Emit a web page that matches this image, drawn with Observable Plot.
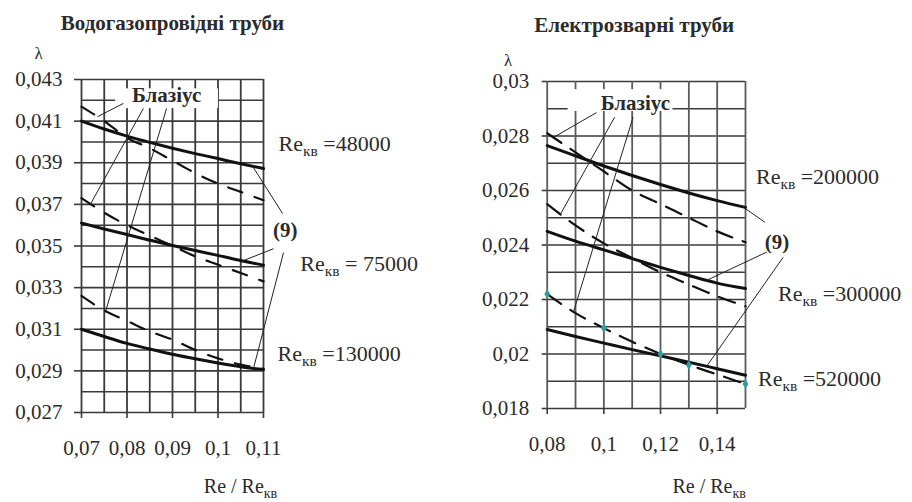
<!DOCTYPE html>
<html><head><meta charset="utf-8">
<script src="https://cdn.jsdelivr.net/npm/d3@7"></script>
<script src="https://cdn.jsdelivr.net/npm/@observablehq/plot@0.6"></script>
<style>
body{margin:0;background:#fff;}
#wrap{position:relative;width:912px;height:502px;overflow:hidden;background:#fff;}
#wrap svg{position:absolute;top:0;}
#wrap svg text, #wrap svg tspan{font-family:'Liberation Serif','Times New Roman',serif !important;}
</style></head><body><div id="wrap"></div>
<script>
// ---------- Left panel: Водогазопровідні труби ----------
const xLeft = [0.07, 0.075, 0.08, 0.085, 0.09, 0.095, 0.1, 0.105, 0.11];
const leftSolid48000   = [0.0410, 0.04062, 0.04028, 0.03998, 0.0397, 0.03944, 0.0392, 0.03895, 0.03872];
const leftBlasius48000 = [0.0417, 0.0410, 0.0402, 0.0397, 0.0391, 0.0385, 0.0380, 0.0376, 0.0372];
const leftSolid75000   = [0.0361, 0.03582, 0.03555, 0.03528, 0.03502, 0.03478, 0.03455, 0.0343, 0.03408];
const leftBlasius75000 = [0.0373, 0.0366, 0.0360, 0.0355, 0.0350, 0.0345, 0.0341, 0.0337, 0.0333];
const leftSolid130000   = [0.0310, 0.03065, 0.03032, 0.03005, 0.0298, 0.02958, 0.02938, 0.0292, 0.02906];
const leftBlasius130000 = [0.0326, 0.0319, 0.0314, 0.0309, 0.0305, 0.0300, 0.0296, 0.0293, 0.0291];
const leftXTicks = [0.07, 0.08, 0.09, 0.1, 0.11];
const leftYTicks = [0.027, 0.029, 0.031, 0.033, 0.035, 0.037, 0.039, 0.041, 0.043];

// ---------- Right panel: Електрозварні труби ----------
const xRight = [0.08, 0.09, 0.1, 0.11, 0.12, 0.13, 0.14, 0.15];
const rightSolid200000   = [0.02765, 0.02727, 0.02690, 0.02655, 0.02622, 0.02591, 0.02563, 0.02538];
const rightBlasius200000 = [0.0281, 0.0274, 0.0267, 0.0260, 0.0255, 0.0250, 0.0245, 0.0241];
const rightSolid300000   = [0.0245, 0.02414, 0.02382, 0.02350, 0.02318, 0.02288, 0.0226, 0.0224];
const rightBlasius300000 = [0.0255, 0.02472, 0.02406, 0.02352, 0.0230, 0.02255, 0.02212, 0.02175];
const rightSolid520000   = [0.0209, 0.02064, 0.0204, 0.02016, 0.01993, 0.0197, 0.01946, 0.01922];
const rightBlasius520000 = [0.0222, 0.0215, 0.02095, 0.02045, 0.0200, 0.0196, 0.01925, 0.0189];
const rightMarkedX = [0.08, 0.1, 0.12, 0.13, 0.15];
const rightXTicks = [0.08, 0.1, 0.12, 0.14];
const rightYTicks = [0.018, 0.02, 0.022, 0.024, 0.026, 0.028, 0.03];

const fmt = d => String(+d.toFixed(4)).replace(".", ",");
const FONT = "'Liberation Serif','Times New Roman',serif";
const INK = "#2b2b2b";

function series(xs, ys, name, kind){ return xs.map((x,i)=>({x, y: ys[i], name, kind})); }
function at(curve, x){ // interpolate along a curve's data
  for (let i=1;i<curve.length;i++){
    if (x <= curve[i].x){ const a=curve[i-1], b=curve[i]; const t=(x-a.x)/(b.x-a.x); return a.y+t*(b.y-a.y); }
  }
  return curve[curve.length-1].y;
}

function panel(cfg){
  const curves = cfg.curves;
  const all = curves.flat();
  const solids = all.filter(d=>d.kind==="solid");
  const dashed = all.filter(d=>d.kind==="dashed");
  const byName = Object.fromEntries(curves.map(c=>[c[0].name+"|"+c[0].kind, c]));
  const leaders = cfg.leaders.map(l=>{
    const c = byName[l.to];
    return {x1:l.x, y1:l.y, x2:l.tx, y2:at(c,l.tx)};
  });
  const svg = Plot.plot({
    width: 456, height: 502,
    marginLeft: cfg.mL, marginRight: cfg.mR, marginTop: cfg.mT, marginBottom: cfg.mB,
    style:{fontFamily: FONT, fontSize:"21px", color: INK, background:"transparent", overflow:"visible"},
    x:{domain: cfg.xDomain},
    y:{domain: cfg.yDomain},
    marks:[
      Plot.gridY(cfg.yGrid, {stroke:"#3a3a3a", strokeOpacity:1, strokeWidth:1.6}),
      Plot.gridX(cfg.xGrid, {stroke: cfg.vGridColor, strokeOpacity:1, strokeWidth:1.8}),
      Plot.axisY(cfg.yTicks, {tickFormat: fmt, tickSize: cfg.yTickSize, tickPadding: cfg.yPad, stroke:"#3a3a3a", strokeWidth:1.6, label:null, fill: INK, fontFamily: FONT, fontSize: 21}),
      Plot.axisX(cfg.xTicks, {tickFormat: fmt, tickSize: 6, tickPadding: 22, stroke:"#3a3a3a", strokeWidth:1.6, label:null, fill: INK, fontFamily: FONT, fontSize: 21}),
      Plot.rect([cfg.box], {x1:"x1", x2:"x2", y1:"y1", y2:"y2", fill:"white"}),
      Plot.line(solids, {x:"x", y:"y", z:"name", stroke:"#111", strokeWidth:3, curve:"monotone-x"}),
      Plot.line(dashed, {x:"x", y:"y", z:"name", stroke:"#111", strokeWidth:2.2, strokeDasharray: cfg.dash, curve:"monotone-x"}),
      cfg.marked ? Plot.dot(cfg.marked, {x:"x", y:"y", symbol:"diamond", r:3, fill:"#2f9d9d"}) : null,
      Plot.link(leaders, {x1:"x1", y1:"y1", x2:"x2", y2:"y2", stroke:"#222", strokeWidth:1}),
      Plot.text([cfg.blasius], {x:"x", y:"y", text:()=>"Блазіус", fontWeight:"bold", fontSize:21, fill:INK, fontFamily: FONT}),
      Plot.text([cfg.nine], {x:"x", y:"y", text:()=>"(9)", fontWeight:"bold", fontSize:21, fill:INK, fontFamily: FONT}),
      Plot.text(cfg.reLabels, {x:"x", y:"y", text:"t", textAnchor:"start", fontSize:22, fill:INK, fontFamily: FONT}),
      Plot.text([cfg.title], {frameAnchor:"top-left", dx:cfg.titleDx, dy:cfg.titleDy, textAnchor:"middle", lineAnchor:"middle", fontWeight:"bold", fontSize:21, fill:INK, fontFamily: FONT}),
      Plot.text(["λ"], {frameAnchor:"top-left", dx:cfg.lamDx, dy:cfg.lamDy, textAnchor:"middle", lineAnchor:"middle", fontSize:17, fill:INK, fontFamily: FONT}),
      Plot.text(["Re / Re_кв"], {frameAnchor:"bottom-left", dx:cfg.axDx, dy:cfg.axDy, textAnchor:"middle", lineAnchor:"middle", fontSize:20, fill:INK, fontFamily: FONT})
    ]
  });
  // subscripts "кв"
  d3.select(svg).selectAll("text").each(function(){
    const t = this.textContent; const i = t.indexOf("_");
    if (i < 0 || this.querySelector("tspan")) return;
    const sel = d3.select(this); sel.text(null);
    sel.append("tspan").text(t.slice(0,i));
    sel.append("tspan").attr("font-size","0.7em").attr("dy","5").text(t.slice(i+1,i+3));
    const rest = t.slice(i+3);
    if (rest) sel.append("tspan").attr("dy","-5").text(rest);
  });
  svg.style.left = cfg.left + "px";
  return svg;
}

const L = [
  series(xLeft, leftSolid48000, "48000", "solid"),
  series(xLeft, leftBlasius48000, "48000", "dashed"),
  series(xLeft, leftSolid75000, "75000", "solid"),
  series(xLeft, leftBlasius75000, "75000", "dashed"),
  series(xLeft, leftSolid130000, "130000", "solid"),
  series(xLeft, leftBlasius130000, "130000", "dashed")
];
const R = [
  series(xRight, rightSolid200000, "200000", "solid"),
  series(xRight, rightBlasius200000, "200000", "dashed"),
  series(xRight, rightSolid300000, "300000", "solid"),
  series(xRight, rightBlasius300000, "300000", "dashed"),
  series(xRight, rightSolid520000, "520000", "solid"),
  series(xRight, rightBlasius520000, "520000", "dashed")
];

const wrap = document.getElementById("wrap");
wrap.append(panel({
  left:0, mL:81, mR:193, mT:79, mB:90,
  xDomain:[0.07,0.11], yDomain:[0.027,0.043],
  yGrid: d3.range(27,44).map(d=>d/1000), xGrid: d3.range(14,23).map(d=>d/200),
  xTicks:leftXTicks, yTicks:leftYTicks, yTickSize:7, yPad:12, vGridColor:"#3a3a3a",
  dash:"15,13", curves:L,
  box:{x1:0.0775, x2:0.1001, y1:0.0416, y2:0.04255},
  blasius:{x:0.0887, y:0.04223}, nine:{x:0.1148, y:0.03574},
  leaders:[
    {x:0.0792, y:0.04185, to:"48000|dashed", tx:0.0735},
    {x:0.0836, y:0.04161, to:"75000|dashed", tx:0.072},
    {x:0.0887, y:0.04161, to:"130000|dashed", tx:0.0753},
    {x:0.1142, y:0.03656, to:"48000|solid", tx:0.1076},
    {x:0.1122, y:0.03487, to:"75000|solid", tx:0.1054},
    {x:0.1144, y:0.03468, to:"130000|solid", tx:0.1078}
  ],
  reLabels:[
    {x:0.1133, y:0.03992, t:"Re_кв =48000"},
    {x:0.1181, y:0.03415, t:"Re_кв = 75000"},
    {x:0.1131, y:0.02983, t:"Re_кв =130000"}
  ],
  title:"Водогазопровідні труби", titleDx:91, titleDy:-56,
  lamDx:-43, lamDy:-26, axDx:159, axDy:74
}));
wrap.append(panel({
  left:456, mL:90.7, mR:167, mT:81, mB:94,
  xDomain:[0.08,0.15], yDomain:[0.018,0.03],
  yGrid: d3.range(18,31).map(d=>d/1000), xGrid: d3.range(8,16).map(d=>d/100),
  xTicks:rightXTicks, yTicks:rightYTicks, yTickSize:5, yPad:13, vGridColor:"#5a5a5a",
  dash:"17,11", curves:R,
  marked: R[5].filter(d=>rightMarkedX.includes(d.x)),
  box:{x1:0.0874, x2:0.1244, y1:0.0289, y2:0.0297},
  blasius:{x:0.1111, y:0.02919}, nine:{x:0.1611, y:0.02409},
  leaders:[
    {x:0.0974, y:0.02886, to:"200000|dashed", tx:0.0822},
    {x:0.1038, y:0.02869, to:"300000|dashed", tx:0.0847},
    {x:0.1103, y:0.02869, to:"520000|dashed", tx:0.0893},
    {x:0.1569, y:0.02483, to:"200000|solid", tx:0.149},
    {x:0.1575, y:0.02374, to:"300000|solid", tx:0.1363},
    {x:0.1633, y:0.02355, to:"520000|solid", tx:0.1363}
  ],
  reLabels:[
    {x:0.1537, y:0.02648, t:"Re_кв =200000"},
    {x:0.1615, y:0.02222, t:"Re_кв =300000"},
    {x:0.1544, y:0.0191, t:"Re_кв =520000"}
  ],
  title:"Електрозварні труби", titleDx:87, titleDy:-56,
  lamDx:-39, lamDy:-21, axDx:162, axDy:78
}));
</script></body></html>
